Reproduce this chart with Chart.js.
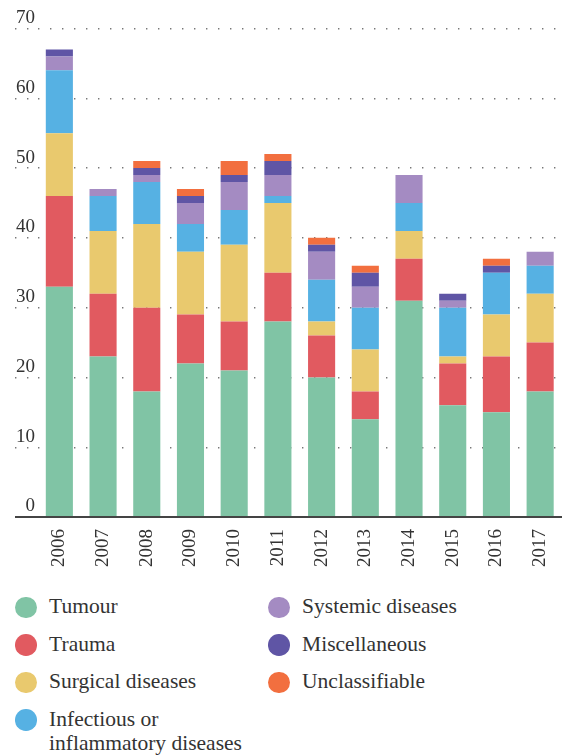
<!DOCTYPE html>
<html>
<head>
<meta charset="utf-8">
<script src="https://cdn.jsdelivr.net/npm/chart.js@4.4.0/dist/chart.umd.min.js"></script>
<style>
body { margin: 0; background: #fff; color: #333; }
#wrap { position: relative; width: 562px; height: 580px; }
#legend { position: absolute; left: 15px; top: 594px; display: grid; grid-auto-flow: column;
  grid-template-rows: repeat(4, 37.6px); grid-template-columns: 253px 280px; }
#legend, #legend * { font-family: "Liberation Serif" !important; }
.item { display: flex; align-items: flex-start; font-size: 21.5px; line-height: 24px; }
.dot { width: 21.6px; height: 21.6px; border-radius: 50%; margin-top: 2.5px; margin-right: 12.5px; flex: none; }
.txt { max-width: 250px; }
</style>
</head>
<body>
<div id="wrap"><canvas id="canvas"></canvas></div>
<div id="legend"></div>
<script>
// values
var years = ['2006','2007','2008','2009','2010','2011','2012','2013','2014','2015','2016','2017'];
var tumour     = [33, 23, 18, 22, 21, 28, 20, 14, 31, 16, 15, 18];
var trauma     = [13,  9, 12,  7,  7,  7,  6,  4,  6,  6,  8,  7];
var surgical   = [ 9,  9, 12,  9, 11, 10,  2,  6,  4,  1,  6,  7];
var infectious = [ 9,  5,  6,  4,  5,  1,  6,  6,  4,  7,  6,  4];
var systemic   = [ 2,  1,  1,  3,  4,  3,  4,  3,  4,  1,  0,  2];
var misc       = [ 1,  0,  1,  1,  1,  2,  1,  2,  0,  1,  1,  0];
var unclass    = [ 0,  0,  1,  1,  2,  1,  1,  1,  0,  0,  1,  0];

var names  = ['Tumour', 'Trauma', 'Surgical diseases', 'Infectious or inflammatory diseases',
              'Systemic diseases', 'Miscellaneous', 'Unclassifiable'];
var series = [tumour, trauma, surgical, infectious, systemic, misc, unclass];
var colors = ['#80c4a5', '#e15a60', '#e9c96e', '#56b1e3', '#a48bc2', '#5f55a5', '#f26f3f'];

var fam = '"Liberation Serif"';
Chart.defaults.font.family = fam;
var isZero = function(c) { return c.tick && c.tick.value === 0; };
var dots = [1.4, 10.6];

var config = {
  type: 'bar',
  data: {
    labels: years,
    datasets: series.map(function(s, i) {
      return { label: names[i], data: s, backgroundColor: colors[i], borderWidth: 0,
               barPercentage: 0.62, categoryPercentage: 1 };
    })
  },
  options: {
    responsive: true,
    maintainAspectRatio: false,
    animation: false,
    layout: { padding: { top: 28.5, left: 15, right: 0, bottom: 13 } },
    plugins: { legend: { display: false }, tooltip: { enabled: false } },
    scales: {
      x: {
        stacked: true,
        border: { display: false },
        grid: { display: true, drawOnChartArea: false, drawTicks: true, tickLength: 12, tickColor: 'rgba(0,0,0,0)' },
        ticks: { minRotation: 90, maxRotation: 90, padding: 0, color: '#333',
                 font: { family: fam, size: 19, lineHeight: 1 } }
      },
      y: {
        stacked: true,
        min: 0, max: 70,
        afterFit: function(scale) { scale.width = 22.5; },
        border: { display: false, dash: function(c) { return isZero(c) ? [] : dots; } },
        grid: {
          color: function(c) { return isZero(c) ? '#444' : '#777'; },
          lineWidth: function(c) { return isZero(c) ? 2 : 1.4; },
          tickLength: 22.5,
          tickColor: function(c) { return isZero(c) ? '#444' : '#777'; },
          tickWidth: function(c) { return isZero(c) ? 2 : 1.4; },
          tickBorderDash: function(c) { return isZero(c) ? [] : dots; }
        },
        ticks: { stepSize: 10, padding: -20, labelOffset: -10.5, color: '#333',
                 font: { family: fam, size: 19 } }
      }
    }
  }
};

// legend first, built right away from the datasets config
var legend = document.getElementById('legend');
config.data.datasets.forEach(function(ds) {
  var item = document.createElement('div');
  item.className = 'item';
  item.style.fontFamily = fam;
  var dot = document.createElement('span');
  dot.className = 'dot';
  dot.style.background = ds.backgroundColor;
  var txt = document.createElement('span');
  txt.className = 'txt';
  txt.textContent = ds.label;
  item.appendChild(dot);
  item.appendChild(txt);
  legend.appendChild(item);
});

var ctx = document.getElementById('canvas').getContext('2d');
window.myBar = new Chart(ctx, config);
</script>
</body>
</html>
